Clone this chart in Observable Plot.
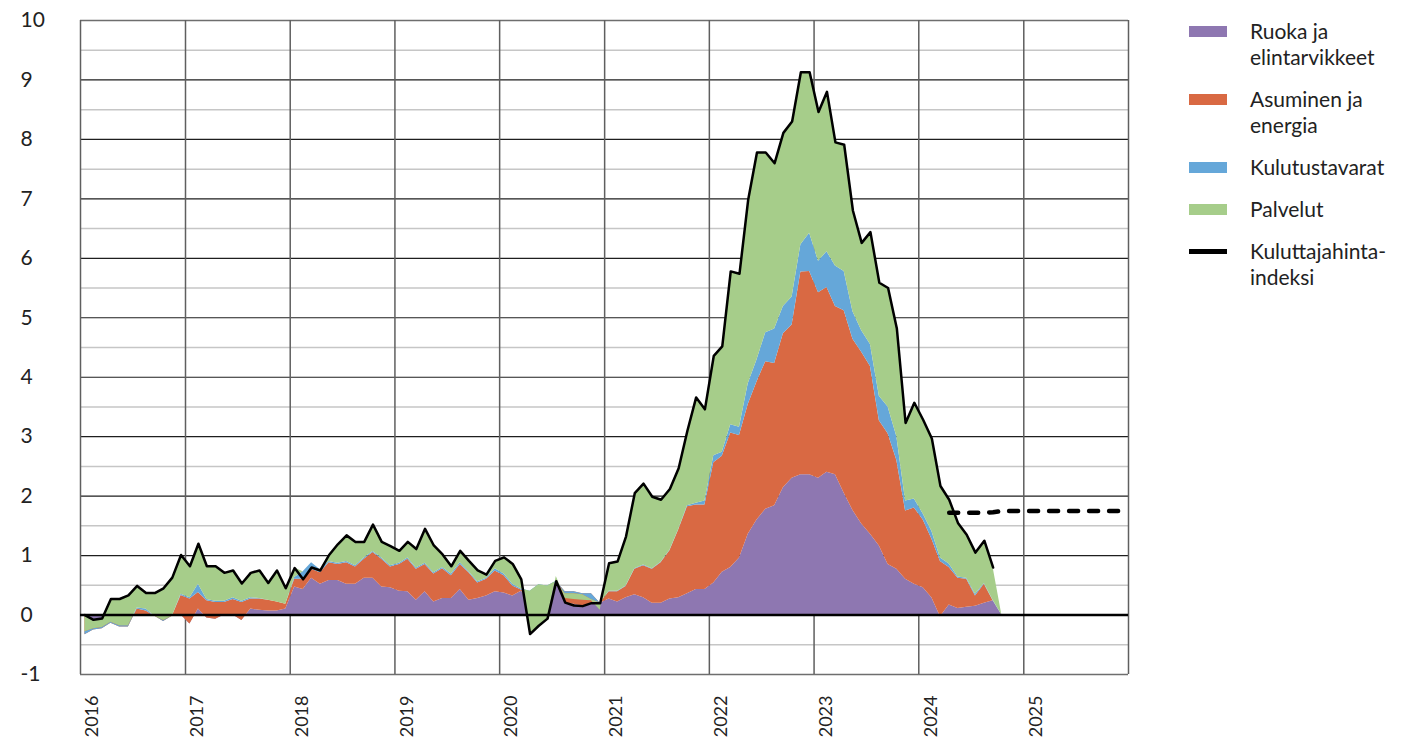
<!DOCTYPE html>
<html><head><meta charset="utf-8">
<script src="https://cdn.jsdelivr.net/npm/d3@7"></script>
<script src="https://cdn.jsdelivr.net/npm/@observablehq/plot@0.6"></script>
<style>
body{margin:0;background:#fff;}
#wrap{position:relative;width:1403px;height:739px;overflow:hidden;font-family:Lato,"Open Sans",sans-serif;color:#222;}
.sw{position:absolute;left:1189px;width:38px;}
.lt{position:absolute;left:1250px;font-size:21px;line-height:26px;white-space:nowrap;}
</style></head><body>
<div id="wrap"></div>
<script>
// Monthly data, Jan 2016 – Oct 2024 (contributions, %-points)
const startYear = 2016;
const seriesNames = ["Ruoka ja elintarvikkeet", "Asuminen ja energia", "Kulutustavarat", "Palvelut"];
const seriesColors = ["#8e77b1", "#d96943", "#65a7d9", "#a6cd8a"];

const food = [
  0, -0.08, -0.07, -0.02, -0.03, -0.03, 0, 0, 0, -0.02, 0, 0,
  -0.15, 0.1, -0.05, -0.07, 0, 0, -0.09, 0.1, 0.08, 0.07, 0.07, 0.1,
  0.47, 0.43, 0.62, 0.52, 0.58, 0.58, 0.52, 0.52, 0.62, 0.62, 0.47, 0.46,
  0.40, 0.39, 0.25, 0.39, 0.22, 0.28, 0.28, 0.43, 0.25, 0.28, 0.32, 0.39,
  0.37, 0.32, 0.40, 0.27, 0.29, 0.32, 0.57, 0.20, 0.18, 0.15, 0.20, 0.20,
  0.27, 0.22, 0.29, 0.34, 0.29, 0.20, 0.20, 0.27, 0.29, 0.36, 0.43, 0.43,
  0.54, 0.72, 0.80, 0.96, 1.36, 1.60, 1.78, 1.84, 2.14, 2.30, 2.36, 2.36,
  2.30, 2.40, 2.36, 2.05, 1.76, 1.53, 1.36, 1.16, 0.85, 0.77, 0.60, 0.52,
  0.46, 0.29, -0.03, 0.17, 0.11, 0.13, 0.15, 0.20, 0.24, 0
];
const housing = [
  -0.33, -0.17, -0.16, -0.12, -0.17, -0.17, 0.10, 0.07, -0.02, -0.09, -0.02, 0.33,
  0.42, 0.28, 0.29, 0.28, 0.21, 0.26, 0.30, 0.17, 0.19, 0.18, 0.15, 0.08,
  0.13, 0.17, 0.15, 0.19, 0.30, 0.27, 0.36, 0.29, 0.32, 0.43, 0.47, 0.35,
  0.45, 0.55, 0.52, 0.46, 0.47, 0.50, 0.38, 0.42, 0.46, 0.26, 0.28, 0.35,
  0.29, 0.17, 0.02, 0.05, 0.05, 0.03, 0.00, 0.19, 0.21, 0.21, 0.16, 0.00,
  0.12, 0.17, 0.19, 0.43, 0.54, 0.57, 0.68, 0.81, 1.14, 1.46, 1.42, 1.42,
  2.02, 1.95, 2.26, 2.06, 2.18, 2.32, 2.48, 2.39, 2.59, 2.58, 3.41, 3.42,
  3.12, 3.11, 2.83, 3.07, 2.88, 2.89, 2.82, 2.11, 2.20, 1.83, 1.15, 1.28,
  1.14, 0.99, 0.93, 0.63, 0.51, 0.47, 0.17, 0.32, 0.00, 0
];
const goods = [
  0.05, 0.02, 0.02, 0.02, 0.02, 0.02, 0.02, 0.03, 0, 0.02, 0, 0.02,
  0.02, 0.14, 0.02, 0.02, 0.02, 0.03, 0.02, 0.02, 0.01, 0, 0, 0,
  0.03, 0.13, 0.11, 0.05, 0.02, 0.02, 0.02, 0.02, 0.02, 0.02, 0.02, 0.02,
  0.02, 0.02, 0.02, 0.02, 0.02, 0.02, 0.03, 0.03, 0.02, 0.02, 0.02, 0.04,
  0.03, 0.03, 0.02, 0.08, 0.17, 0.14, 0, -0.03, -0.03, -0.02, -0.10, 0,
  0.01, 0.01, 0.01, 0.01, 0.01, 0.01, 0.01, 0.01, 0.01, 0.02, 0.03, 0.07,
  0.12, 0.07, 0.14, 0.14, 0.35, 0.37, 0.49, 0.58, 0.46, 0.47, 0.46, 0.64,
  0.53, 0.60, 0.68, 0.66, 0.46, 0.36, 0.37, 0.41, 0.45, 0.40, 0.17, 0.15,
  0.10, 0.13, 0.06, 0.06, 0.02, 0.02, 0.03, 0.01, 0.01, 0
];
const services = [
  0.28, 0.15, 0.15, 0.39, 0.45, 0.51, 0.37, 0.27, 0.39, 0.54, 0.65, 0.66,
  0.53, 0.68, 0.56, 0.59, 0.48, 0.46, 0.30, 0.42, 0.47, 0.29, 0.53, 0.27,
  0.16, 0.00, 0.00, 0.00, 0.11, 0.32, 0.44, 0.40, 0.27, 0.45, 0.27, 0.33,
  0.21, 0.27, 0.32, 0.58, 0.46, 0.22, 0.13, 0.20, 0.18, 0.19, 0.06, 0.13,
  0.28, 0.34, 0.16, -0.72, -0.69, -0.55, 0.08, -0.08, -0.10, -0.09, -0.02, -0.12,
  0.47, 0.50, 0.83, 1.27, 1.37, 1.21, 1.05, 1.03, 1.03, 1.26, 1.78, 1.54,
  1.68, 1.78, 2.58, 2.58, 3.10, 3.49, 3.03, 2.79, 2.92, 2.95, 2.90, 2.71,
  2.51, 2.69, 2.08, 2.13, 1.70, 1.48, 1.89, 1.91, 2.00, 1.82, 1.31, 1.62,
  1.58, 1.56, 1.21, 1.08, 0.91, 0.73, 0.70, 0.72, 0.55, 0
];
// Kuluttajahintaindeksi, Jan 2016 – Sep 2024
const cpi = [
  0.0, -0.08, -0.06, 0.27, 0.27, 0.33, 0.49, 0.37, 0.37, 0.45, 0.63, 1.01,
  0.82, 1.2, 0.82, 0.82, 0.71, 0.75, 0.53, 0.71, 0.75, 0.54, 0.75, 0.45,
  0.79, 0.6, 0.8, 0.75, 1.01, 1.19, 1.34, 1.23, 1.23, 1.52, 1.23, 1.16,
  1.08, 1.23, 1.11, 1.45, 1.17, 1.02, 0.82, 1.08, 0.91, 0.75, 0.68, 0.91,
  0.97, 0.86, 0.6, -0.32, -0.18, -0.06, 0.57, 0.21, 0.16, 0.15, 0.2, 0.2,
  0.87, 0.9, 1.32, 2.05, 2.21, 1.99, 1.94, 2.12, 2.47, 3.1, 3.66, 3.46,
  4.36, 4.52, 5.78, 5.74, 6.99, 7.78, 7.78, 7.6, 8.11, 8.3, 9.13, 9.13,
  8.46, 8.8, 7.95, 7.91, 6.8, 6.26, 6.44, 5.59, 5.5, 4.82, 3.23, 3.57,
  3.28, 2.97, 2.17, 1.94, 1.55, 1.35, 1.05, 1.25, 0.8
];
// dashed reference line, Apr 2024 – Dec 2025
const refStartMonth = 99;
const refLine = [1.72, 1.72, 1.72, 1.72, 1.72, 1.73, 1.75, 1.75, 1.75, 1.75, 1.75, 1.75, 1.75, 1.75, 1.75, 1.75, 1.75, 1.75, 1.75, 1.75, 1.75];

const yearTicks = d3.range(2016, 2027);
const yearLabels = d3.range(2016, 2026);
const yMajor = d3.range(0, 10);      // inner integer gridlines
const yMinor = d3.range(-0.5, 10, 1); // half-step gridlines
const yLabels = d3.range(-1, 11);

// helpers
const midMonth = i => new Date((Date.UTC(startYear, i, 1) + Date.UTC(startYear, i + 1, 1)) / 2);
const comps = [food, housing, goods, services];
const layers = comps.map((arr, k) => arr.map((v, i) => {
  let lo = 0;
  for (let j = 0; j < k; j++) lo += comps[j][i];
  return {date: midMonth(i), y1: lo, y2: lo + v};
}));
const cpiData = cpi.map((v, i) => ({date: midMonth(i), v}));
const refData = refLine.map((v, i) => ({date: midMonth(refStartMonth + i), v}));
const yearDate = y => new Date(Date.UTC(y, 0, 1));

const chart = Plot.plot({
  width: 1403, height: 739,
  marginLeft: 80, marginRight: 275, marginTop: 20, marginBottom: 65,
  style: {fontFamily: "Lato, 'Open Sans', sans-serif", fontSize: "21px", color: "#222", background: "#fff"},
  x: {type: "utc", domain: [yearDate(2016), yearDate(2026)]},
  y: {domain: [-1, 10]},
  marks: [
    Plot.ruleY(yMinor, {stroke: "#c6c6c6", strokeWidth: 1.5}),
    Plot.ruleY(yMajor, {stroke: "#1e1e1e", strokeWidth: 1.2}),
    Plot.ruleY([-1, 10], {stroke: "#6e6e6e", strokeWidth: 1.5}),
    Plot.ruleX(yearTicks.map(yearDate), {stroke: "#5f5f5f", strokeWidth: 1.5}),
    ...layers.map((L, k) => Plot.areaY(L, {x: "date", y1: "y1", y2: "y2", fill: seriesColors[k]})),
    Plot.ruleY([0], {stroke: "#000", strokeWidth: 2.5}),
    Plot.lineY(cpiData, {x: "date", y: "v", stroke: "#000", strokeWidth: 2.5}),
    Plot.lineY(refData, {x: "date", y: "v", stroke: "#000", strokeWidth: 4.5, strokeDasharray: "9,11", strokeLinecap: "round"}),
    Plot.axisY(yLabels, {tickSize: 0, tickPadding: 0, textAnchor: "start", dx: -60, label: null, fill: "#222",
      tickFormat: d => String(d)}),
    Plot.axisX(yearLabels.map(yearDate), {tickSize: 0, tickPadding: 21, tickRotate: -90, dx: 12, label: null, fill: "#222",
      fontSize: 18, tickFormat: d => String(d.getUTCFullYear())})
  ]
});
const wrap = document.getElementById("wrap");
wrap.appendChild(chart);

// legend
const legendItems = [
  {lines: ["Ruoka ja", "elintarvikkeet"], color: seriesColors[0], y: 31, h: 11},
  {lines: ["Asuminen ja", "energia"], color: seriesColors[1], y: 99, h: 11},
  {lines: ["Kulutustavarat"], color: seriesColors[2], y: 167, h: 11},
  {lines: ["Palvelut"], color: seriesColors[3], y: 209, h: 11},
  {lines: ["Kuluttajahinta-", "indeksi"], color: "#000", y: 251, h: 5}
];
legendItems.forEach(it => {
  const sw = document.createElement("div");
  sw.className = "sw";
  sw.style.top = (it.y - it.h / 2) + "px";
  sw.style.height = it.h + "px";
  sw.style.background = it.color;
  wrap.appendChild(sw);
  it.lines.forEach((t, j) => {
    const d = document.createElement("div");
    d.className = "lt";
    d.textContent = t;
    d.style.top = (it.y - 13 + j * 25.5) + "px";
    wrap.appendChild(d);
  });
});
</script>
</body></html>
